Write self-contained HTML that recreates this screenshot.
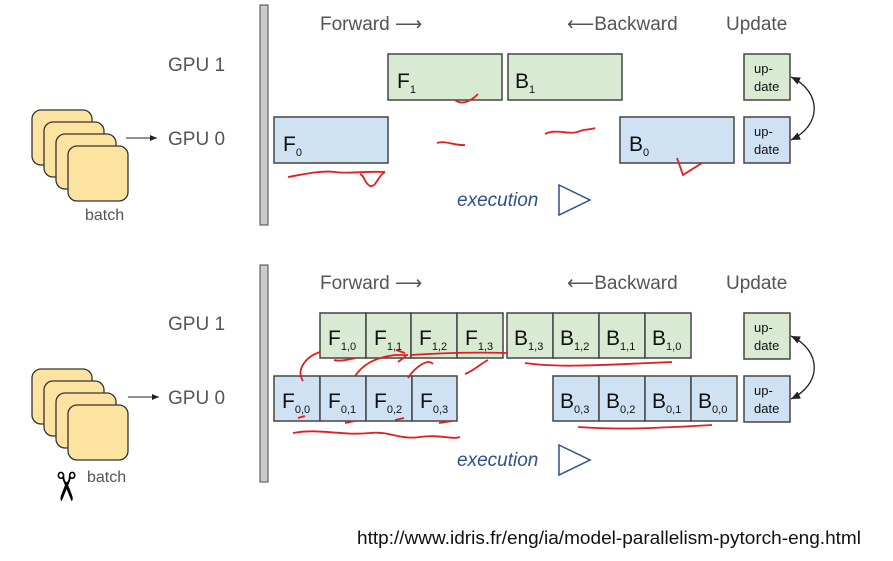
<!DOCTYPE html>
<html><head><meta charset="utf-8"><style>
body{margin:0;background:#fff;width:893px;height:561px;overflow:hidden}
svg{display:block}
.t{font-family:"Liberation Sans",sans-serif;fill:#555;font-size:19px}
.c{font-family:"Liberation Sans",sans-serif;fill:#111;font-size:21px}
.s{font-size:11px}
.g{fill:#d9ead3;stroke:#444;stroke-width:1.5}
.b{fill:#cfe2f3;stroke:#444;stroke-width:1.5}
.card{fill:#fce4a0;stroke:#333;stroke-width:1.3}
.r{fill:none;stroke:#e02020;stroke-width:1.8}
.e{font-family:"Liberation Sans",sans-serif;font-style:italic;fill:#2f4f8f;font-size:19px}
.u{font-family:"Liberation Sans",sans-serif;fill:#111;font-size:13px}
</style></head><body>
<svg width="893" height="561" viewBox="0 0 893 561">
<defs><marker id="a" markerWidth="8" markerHeight="8" refX="7" refY="3" orient="auto-start-reverse"><path d="M0,0 L7,3 L0,6z" fill="#222"/></marker></defs>
<!-- TOP -->
<rect x="260" y="5" width="8" height="220" fill="#ccc" stroke="#444"/>
<text class="t" x="320" y="30">Forward ⟶</text>
<text class="t" x="567" y="30">⟵Backward</text>
<text class="t" x="726" y="30">Update</text>
<text class="t" x="168" y="71">GPU 1</text>
<text class="t" x="168" y="145">GPU 0</text>
<rect class="card" x="32" y="110" width="60" height="55" rx="9"/>
<rect class="card" x="44" y="122" width="60" height="55" rx="9"/>
<rect class="card" x="56" y="134" width="60" height="55" rx="9"/>
<rect class="card" x="68" y="146" width="60" height="55" rx="9"/>
<text class="t" x="85" y="220" style="font-size:16px">batch</text>
<line x1="126" y1="138" x2="157" y2="138" stroke="#222" marker-end="url(#a)"/>
<rect class="g" x="388" y="54" width="114" height="46"/>
<text class="c" x="397" y="88">F<tspan class="s" dy="5">1</tspan></text>
<rect class="g" x="508" y="54" width="114" height="46"/>
<text class="c" x="515" y="88">B<tspan class="s" dy="5">1</tspan></text>
<rect class="b" x="274" y="117" width="114" height="46"/>
<text class="c" x="283" y="151">F<tspan class="s" dy="5">0</tspan></text>
<rect class="b" x="620" y="117" width="114" height="46"/>
<text class="c" x="629" y="151">B<tspan class="s" dy="5">0</tspan></text>
<rect class="g" x="744" y="54" width="46" height="46"/>
<text class="u" x="754" y="73">up-</text><text class="u" x="754" y="91">date</text>
<rect class="b" x="744" y="117" width="46" height="46"/>
<text class="u" x="754" y="136">up-</text><text class="u" x="754" y="154">date</text>
<path d="M791,140 C822,125 822,92 791,77" fill="none" stroke="#222" stroke-width="1.3" marker-start="url(#a)" marker-end="url(#a)"/>
<text class="e" x="457" y="206">execution</text>
<path d="M559,185 L590,200 L559,215z" fill="none" stroke="#2f4f8f" stroke-width="1.5"/>
<path class="r" d="M288,177 C300,175 320,170 335,172 C350,174 360,171 385,172 C378,175 376,188 370,186 C364,183 365,176 360,174"/>
<path class="r" d="M455,100 C460,104 468,104 478,94"/>
<path class="r" d="M437,143 C445,140 455,146 465,145"/>
<path class="r" d="M545,134 C556,128 570,136 580,131 C585,129 590,130 595,128"/>
<path class="r" d="M677,158 L683,175 L702,163"/>
<!-- BOTTOM -->
<rect x="260" y="265" width="8" height="217" fill="#ccc" stroke="#444"/>
<text class="t" x="320" y="289">Forward ⟶</text>
<text class="t" x="567" y="289">⟵Backward</text>
<text class="t" x="726" y="289">Update</text>
<text class="t" x="168" y="330">GPU 1</text>
<text class="t" x="168" y="404">GPU 0</text>
<rect class="card" x="32" y="369" width="60" height="55" rx="9"/>
<rect class="card" x="44" y="381" width="60" height="55" rx="9"/>
<rect class="card" x="56" y="393" width="60" height="55" rx="9"/>
<rect class="card" x="68" y="405" width="60" height="55" rx="9"/>
<text class="t" x="87" y="482" style="font-size:16px">batch</text>
<text x="50" y="502" style="font-size:40px;font-family:'DejaVu Sans',sans-serif;fill:#000" transform="rotate(90 67 487)">✂</text>
<line x1="128" y1="397" x2="159" y2="397" stroke="#222" marker-end="url(#a)"/>
<g>
<rect class="g" x="320" y="313" width="46" height="45"/><text class="c" x="328" y="345">F<tspan class="s" dy="5">1,0</tspan></text>
<rect class="g" x="366" y="313" width="45" height="45"/><text class="c" x="374" y="345">F<tspan class="s" dy="5">1,1</tspan></text>
<rect class="g" x="411" y="313" width="46" height="45"/><text class="c" x="419" y="345">F<tspan class="s" dy="5">1,2</tspan></text>
<rect class="g" x="457" y="313" width="46" height="45"/><text class="c" x="465" y="345">F<tspan class="s" dy="5">1,3</tspan></text>
<rect class="g" x="507" y="313" width="46" height="45"/><text class="c" x="514" y="345">B<tspan class="s" dy="5">1,3</tspan></text>
<rect class="g" x="553" y="313" width="46" height="45"/><text class="c" x="560" y="345">B<tspan class="s" dy="5">1,2</tspan></text>
<rect class="g" x="599" y="313" width="46" height="45"/><text class="c" x="606" y="345">B<tspan class="s" dy="5">1,1</tspan></text>
<rect class="g" x="645" y="313" width="46" height="45"/><text class="c" x="652" y="345">B<tspan class="s" dy="5">1,0</tspan></text>
<rect class="b" x="274" y="376" width="46" height="45"/><text class="c" x="282" y="408">F<tspan class="s" dy="5">0,0</tspan></text>
<rect class="b" x="320" y="376" width="46" height="45"/><text class="c" x="328" y="408">F<tspan class="s" dy="5">0,1</tspan></text>
<rect class="b" x="366" y="376" width="46" height="45"/><text class="c" x="374" y="408">F<tspan class="s" dy="5">0,2</tspan></text>
<rect class="b" x="412" y="376" width="45" height="45"/><text class="c" x="420" y="408">F<tspan class="s" dy="5">0,3</tspan></text>
<rect class="b" x="553" y="376" width="46" height="45"/><text class="c" x="560" y="408">B<tspan class="s" dy="5">0,3</tspan></text>
<rect class="b" x="599" y="376" width="46" height="45"/><text class="c" x="606" y="408">B<tspan class="s" dy="5">0,2</tspan></text>
<rect class="b" x="645" y="376" width="46" height="45"/><text class="c" x="652" y="408">B<tspan class="s" dy="5">0,1</tspan></text>
<rect class="b" x="691" y="376" width="46" height="45"/><text class="c" x="698" y="408">B<tspan class="s" dy="5">0,0</tspan></text>
</g>
<rect class="g" x="744" y="313" width="46" height="46"/>
<text class="u" x="754" y="332">up-</text><text class="u" x="754" y="350">date</text>
<rect class="b" x="744" y="376" width="46" height="46"/>
<text class="u" x="754" y="395">up-</text><text class="u" x="754" y="413">date</text>
<path d="M791,399 C822,384 822,351 791,336" fill="none" stroke="#222" stroke-width="1.3" marker-start="url(#a)" marker-end="url(#a)"/>
<text class="e" x="457" y="466">execution</text>
<path d="M559,445 L590,460 L559,475z" fill="none" stroke="#2f4f8f" stroke-width="1.5"/>
<path class="r" d="M303,381 C296,370 305,357 320,352 M334,360 C340,362 350,359 356,358 M355,376 C362,366 372,358 395,355 L408,355 M405,353 L396,350 M406,356 L398,362 M410,355 C440,353 470,352 508,353 M408,378 C415,367 428,358 433,364 M465,374 C475,370 480,364 488,360 M525,363 C560,368 600,365 672,362 M293,433 C320,428 340,436 370,433 C390,431 400,440 420,437 C440,434 452,440 460,437 M345,423 L355,421 M395,420 L404,418 M439,423 L452,421 M298,418 L305,416 M578,427 C620,430 660,428 712,425"/>
<text class="t" x="357" y="544" textLength="504" lengthAdjust="spacingAndGlyphs" style="fill:#111;font-size:18px">http://www.idris.fr/eng/ia/model-parallelism-pytorch-eng.html</text>
</svg>
</body></html>
